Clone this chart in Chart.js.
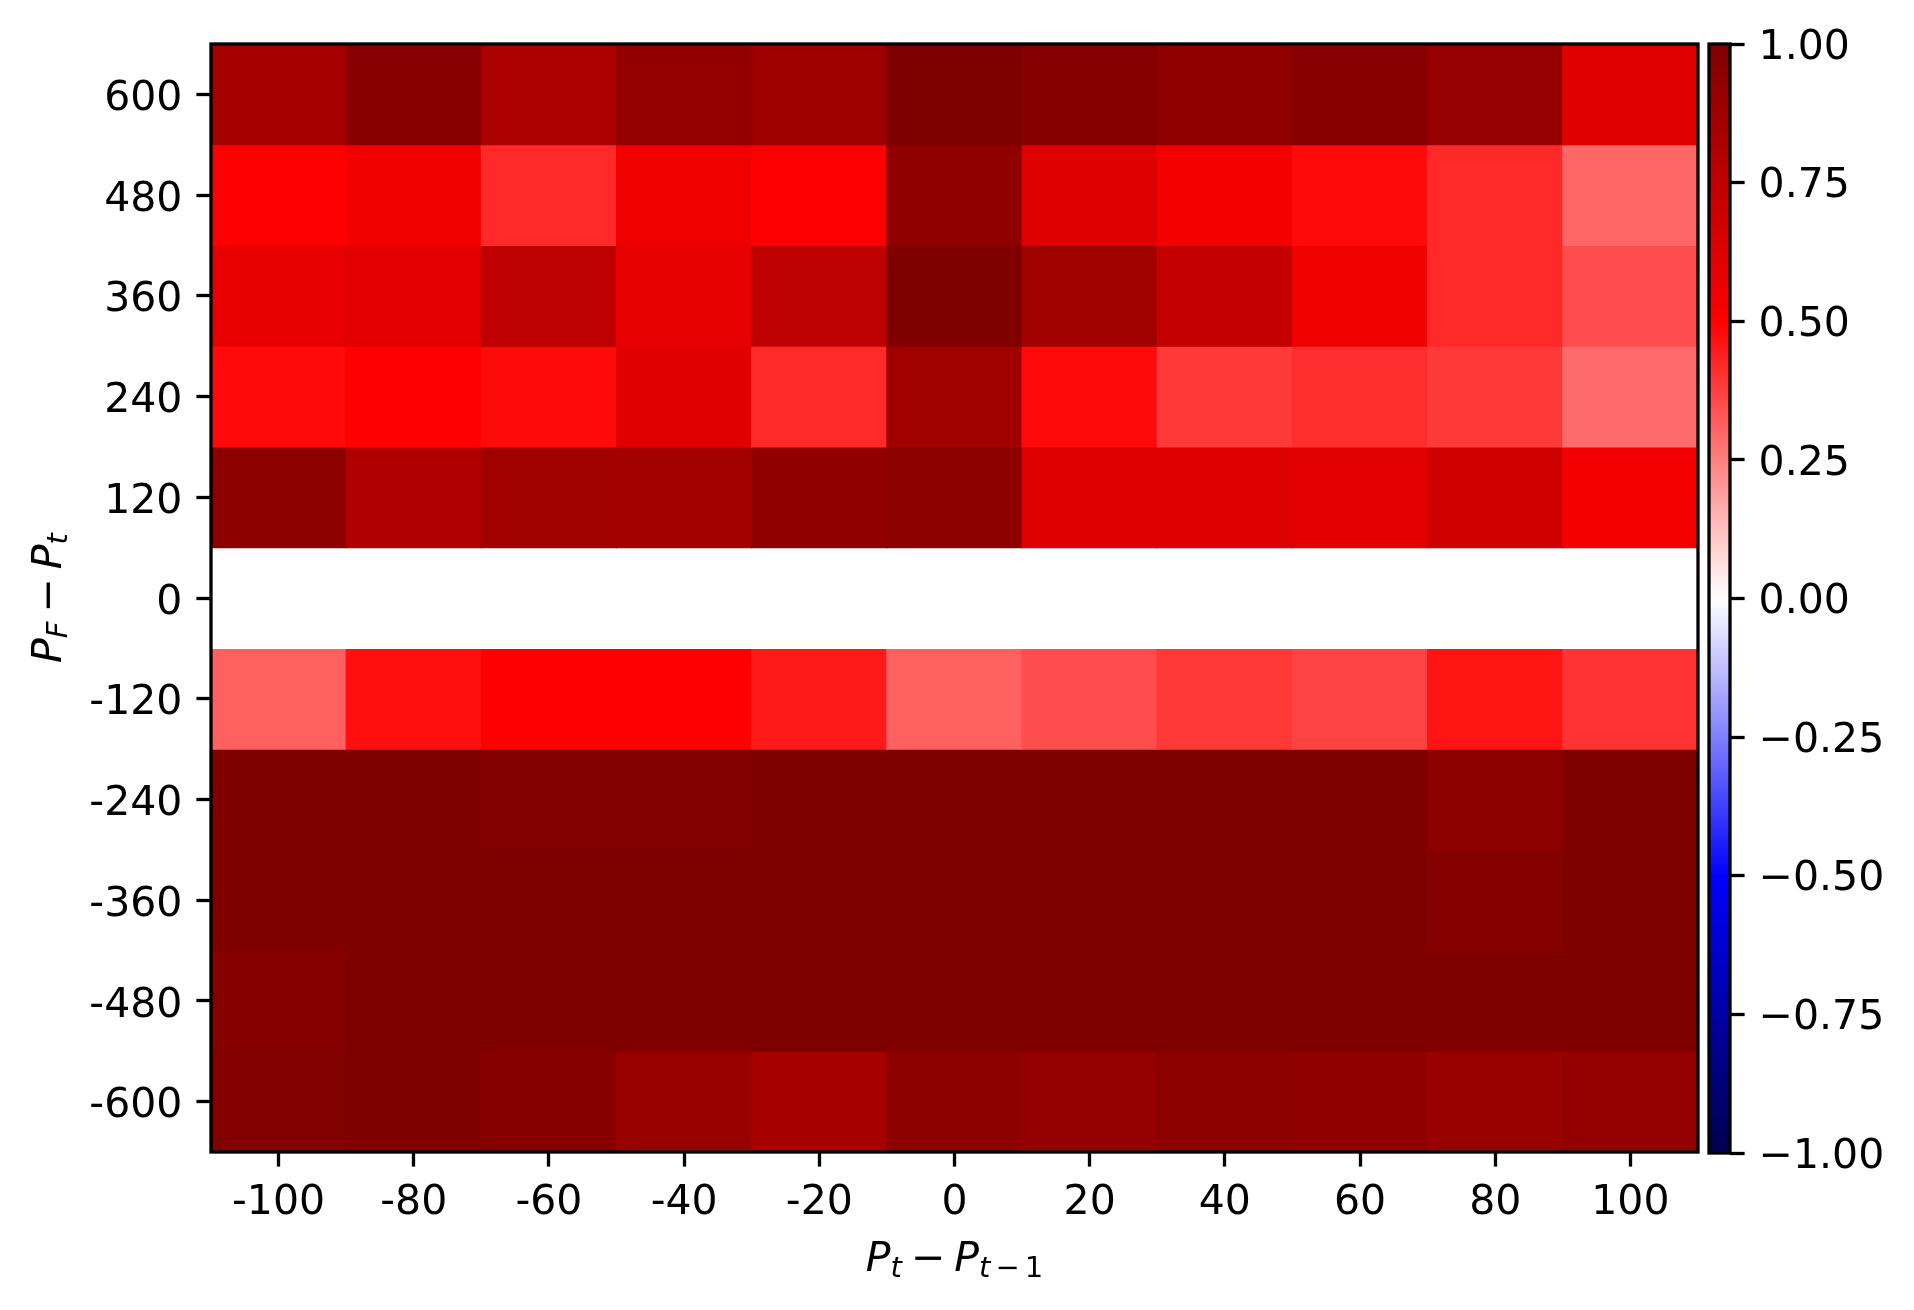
<!DOCTYPE html>
<html lang="en">
<head>
    <meta charset="UTF-8">
    <title>Heatmap - P_F - P_t vs P_t - P_t-1</title>
    <script src="https://cdn.jsdelivr.net/npm/chart.js"></script>
    <style>
        body { margin: 0; background: white; }
        #wrap { position: relative; width: 1914px; height: 1310px; }
        #main { position: absolute; left: 0; top: 0; }
        #cbar { position: absolute; left: 1700px; top: 0; }
    </style>
</head>
<body>
    <div id="wrap">
        <canvas id="main" width="1700" height="1310"></canvas>
        <canvas id="cbar" width="214" height="1310"></canvas>
    </div>

    <script>
        // x categories (P_t - P_{t-1})
        var xLabels = ['-100', '-80', '-60', '-40', '-20', '0', '20', '40', '60', '80', '100'];
        // row centres (P_F - P_t), top to bottom
        var yRows = [600, 480, 360, 240, 120, 0, -120, -240, -360, -480, -600];
        var rowHalf = 60;

        // cell values, one array per row
        var row600  = [0.85, 0.96, 0.83, 0.92, 0.88, 1.00, 0.97, 0.93, 0.96, 0.91, 0.62];
        var row480  = [0.50, 0.55, 0.42, 0.56, 0.50, 0.93, 0.63, 0.54, 0.48, 0.42, 0.30];
        var row360  = [0.59, 0.61, 0.75, 0.59, 0.75, 1.00, 0.87, 0.73, 0.56, 0.42, 0.35];
        var row240  = [0.48, 0.50, 0.48, 0.62, 0.42, 0.87, 0.48, 0.39, 0.41, 0.39, 0.29];
        var row120  = [0.95, 0.81, 0.87, 0.86, 0.93, 0.95, 0.63, 0.63, 0.61, 0.69, 0.54];
        var row0    = [0.00, 0.00, 0.00, 0.00, 0.00, 0.00, 0.00, 0.00, 0.00, 0.00, 0.00];
        var rowM120 = [0.31, 0.47, 0.50, 0.50, 0.45, 0.31, 0.35, 0.39, 0.37, 0.46, 0.40];
        var rowM240 = [1.00, 1.00, 0.99, 0.99, 1.00, 1.00, 1.00, 1.00, 1.00, 0.95, 1.00];
        var rowM360 = [1.00, 1.00, 1.00, 1.00, 1.00, 1.00, 1.00, 1.00, 1.00, 0.98, 1.00];
        var rowM480 = [0.97, 1.00, 1.00, 1.00, 1.00, 1.00, 1.00, 1.00, 1.00, 1.00, 1.00];
        var rowM600 = [0.99, 1.00, 0.97, 0.90, 0.85, 0.95, 0.92, 0.95, 0.94, 0.90, 0.92];
        var rows = [row600, row480, row360, row240, row120, row0, rowM120, rowM240, rowM360, rowM480, rowM600];

        // colour bar range
        var cbMin = -1, cbMax = 1, cbStep = 0.25;

        // matplotlib "seismic" colormap
        var seismicStops = [
            [0.00, 0, 0, 76.5],
            [0.25, 0, 0, 255],
            [0.50, 255, 255, 255],
            [0.75, 255, 0, 0],
            [1.00, 127.5, 0, 0]
        ];
        function seismic(v) {
            var p = (v - cbMin) / (cbMax - cbMin);
            p = Math.max(0, Math.min(1, p));
            for (var i = 1; i < seismicStops.length; i++) {
                var a = seismicStops[i - 1], b = seismicStops[i];
                if (p <= b[0]) {
                    var t = (p - a[0]) / (b[0] - a[0]);
                    var r = Math.round(a[1] + (b[1] - a[1]) * t);
                    var g = Math.round(a[2] + (b[2] - a[2]) * t);
                    var bl = Math.round(a[3] + (b[3] - a[3]) * t);
                    return 'rgb(' + r + ',' + g + ',' + bl + ')';
                }
            }
            return 'rgb(127,0,0)';
        }

        var FONT = "'DejaVu Sans', sans-serif";
        var LW = 3.3;     // 0.8pt at 300 dpi
        var TICK = 14.6;  // 3.5pt at 300 dpi

        // frame around the plot area
        var framePlugin = {
            id: 'frame',
            afterDraw: function(chart) {
                var a = chart.chartArea, c = chart.ctx;
                c.save();
                c.strokeStyle = '#000';
                c.lineWidth = LW;
                c.strokeRect(a.left, a.top, a.right - a.left, a.bottom - a.top);
                c.restore();
            }
        };

        // math-style axis labels (italic P with subscripts)
        function fontFor(p) {
            var size = p.sub ? 29 : 41;
            return (p.it ? 'italic ' : '') + size + 'px ' + FONT;
        }
        function drawMath(c, parts, x, y, angle) {
            c.save();
            c.translate(x, y);
            c.rotate(angle);
            c.fillStyle = '#000';
            c.textBaseline = 'alphabetic';
            c.textAlign = 'left';
            var w = 0;
            parts.forEach(function(p) {
                c.font = fontFor(p);
                p.w = c.measureText(p.t).width + (p.gap || 0) * 2;
                w += p.w;
            });
            var cx = -w / 2;
            parts.forEach(function(p) {
                c.font = fontFor(p);
                c.fillText(p.t, cx + (p.gap || 0), p.sub ? 6 : 0);
                cx += p.w;
            });
            c.restore();
        }
        var xTitle = [
            { t: 'P', it: true }, { t: 't', it: true, sub: true },
            { t: '\u2212', gap: 9 },
            { t: 'P', it: true }, { t: 't', it: true, sub: true },
            { t: '\u2212', sub: true, gap: 5 }, { t: '1', sub: true }
        ];
        var yTitle = [
            { t: 'P', it: true }, { t: 'F', it: true, sub: true },
            { t: '\u2212', gap: 9 },
            { t: 'P', it: true }, { t: 't', it: true, sub: true }
        ];
        var titlePlugin = {
            id: 'mathTitles',
            afterDraw: function(chart) {
                var a = chart.chartArea;
                drawMath(chart.ctx, xTitle, (a.left + a.right) / 2, 1271, 0);
                drawMath(chart.ctx, yTitle, 61, (a.top + a.bottom) / 2, -Math.PI / 2);
            }
        };

        // one floating-bar dataset per row
        var datasets = rows.map(function(vals, i) {
            var yc = yRows[i];
            return {
                label: String(yc),
                data: vals.map(function() { return [yc - rowHalf, yc + rowHalf]; }),
                backgroundColor: vals.map(seismic),
                borderWidth: 0,
                inflateAmount: 0.6,
                grouped: false,
                barPercentage: 1,
                categoryPercentage: 1
            };
        });

        new Chart(document.getElementById('main').getContext('2d'), {
            type: 'bar',
            data: { labels: xLabels, datasets: datasets },
            options: {
                responsive: false,
                animation: false,
                layout: { padding: { left: 0, top: 44, right: 2, bottom: 0 } },
                plugins: { legend: { display: false }, tooltip: { enabled: false } },
                scales: {
                    x: {
                        type: 'category',
                        offset: true,
                        border: { display: false },
                        grid: { offset: false, drawOnChartArea: false, color: '#000', tickLength: TICK, tickWidth: LW },
                        ticks: { color: '#000', padding: 12, maxRotation: 0, autoSkip: false, font: { family: FONT, size: 41 } },
                        afterFit: function(s) { s.height = 158; }
                    },
                    y: {
                        type: 'linear',
                        min: yRows[yRows.length - 1] - rowHalf,
                        max: yRows[0] + rowHalf,
                        border: { display: false },
                        grid: { drawOnChartArea: false, color: '#000', tickLength: TICK, tickWidth: LW },
                        ticks: {
                            color: '#000', padding: 14, labelOffset: 5, font: { family: FONT, size: 41 },
                            callback: function(v) { return String(v); }
                        },
                        afterBuildTicks: function(s) {
                            s.ticks = yRows.slice().reverse().map(function(v) { return { value: v }; });
                        },
                        afterFit: function(s) { s.width = 211; }
                    }
                }
            },
            plugins: [framePlugin, titlePlugin]
        });

        // colour bar
        function cbGradient(ctx) {
            var chart = ctx.chart;
            var a = chart.chartArea;
            if (!a) return 'white';
            var y = chart.scales.y;
            var g = chart.ctx.createLinearGradient(0, y.getPixelForValue(cbMin), 0, y.getPixelForValue(cbMax));
            seismicStops.forEach(function(s) {
                g.addColorStop(s[0], 'rgb(' + s[1] + ',' + s[2] + ',' + s[3] + ')');
            });
            return g;
        }

        new Chart(document.getElementById('cbar').getContext('2d'), {
            type: 'bar',
            data: {
                labels: [''],
                datasets: [{
                    data: [[cbMin, cbMax]],
                    backgroundColor: cbGradient,
                    borderWidth: 0,
                    barPercentage: 1,
                    categoryPercentage: 1
                }]
            },
            options: {
                responsive: false,
                animation: false,
                layout: { padding: { left: 9, top: 44, right: 0, bottom: 157 } },
                plugins: { legend: { display: false }, tooltip: { enabled: false } },
                scales: {
                    x: { display: false },
                    y: {
                        type: 'linear',
                        position: 'right',
                        min: cbMin,
                        max: cbMax,
                        border: { display: false },
                        grid: { drawOnChartArea: false, color: '#000', tickLength: TICK, tickWidth: LW },
                        ticks: {
                            stepSize: cbStep, color: '#000', padding: 14, labelOffset: 4, font: { family: FONT, size: 41 },
                            callback: function(v) { return v.toFixed(2).replace('-', '\u2212'); }
                        },
                        afterFit: function(s) { s.width = 184; }
                    }
                }
            },
            plugins: [framePlugin]
        });
    </script>
</body>
</html>
